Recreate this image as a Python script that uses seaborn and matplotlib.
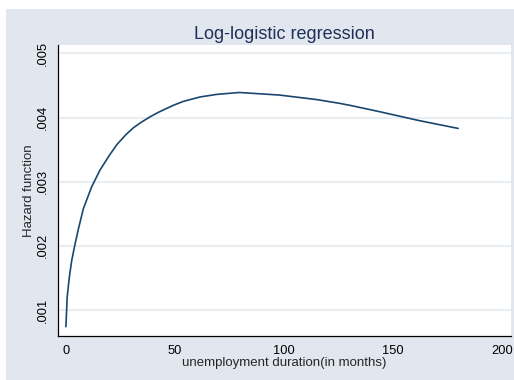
import matplotlib
matplotlib.use("Agg")
import matplotlib.pyplot as plt
from matplotlib.patches import Rectangle
import pandas as pd
import seaborn as sns

# Estimated hazard from the log-logistic model, by unemployment duration (months)
duration = [0.1, 0.7, 1.7, 2.8, 4.3, 5.8, 8.1, 11.9, 15.7, 19.8, 23.5, 27.5,
            31.0, 34.8, 38.6, 42.4, 49.3, 53.8, 61.5, 69.1, 79.6, 97.9, 114.9,
            125.6, 130.2, 143.9, 162.2, 179.8]
hazard = [0.00074, 0.00121, 0.00152, 0.00178, 0.00203, 0.00226, 0.00258, 0.00292,
          0.00318, 0.00340, 0.00358, 0.00373, 0.00384, 0.00393, 0.00401, 0.00408,
          0.00419, 0.00425, 0.00432, 0.00436, 0.00439, 0.00435, 0.00428,
          0.00422, 0.00419, 0.00409, 0.00395, 0.00383]

x_ticks = [0, 50, 100, 150, 200]
y_ticks = [0.001, 0.002, 0.003, 0.004, 0.005]
y_tick_labels = [".001", ".002", ".003", ".004", ".005"]

df = pd.DataFrame({"duration": duration, "hazard": hazard})

sns.set_style("white")
plt.rcParams["font.family"] = ["Liberation Sans", "DejaVu Sans"]

W, H = 514, 380
fig = plt.figure(figsize=(W / 100, H / 100), dpi=100, facecolor="white")

# graph region background
fig.patches.append(Rectangle((6 / W, 0), (W - 6) / W, (H - 9) / H,
                             transform=fig.transFigure, facecolor="#E2E7EF",
                             edgecolor="none", zorder=-10))

left, right, top, bottom = 57.7, 511, 45, 335.7
ax = fig.add_axes([left / W, (H - bottom) / H, (right - left) / W, (bottom - top) / H])
ax.set_facecolor("white")

navy = "#1A476F"
sns.lineplot(data=df, x="duration", y="hazard", ax=ax, color=navy, linewidth=1.2)

ax.set_xlim(-3.66, 204)
ax.set_ylim(0.0006, 0.00513)
ax.set_xticks(x_ticks)
ax.set_xticklabels([str(v) for v in x_ticks])
ax.set_yticks(y_ticks)
ax.set_yticklabels(y_tick_labels, rotation=90, va="center")

ax.yaxis.grid(True, color="#E9EEF3", linewidth=1.5)
ax.xaxis.grid(False)
ax.set_axisbelow(True)

for side in ["top", "right"]:
    ax.spines[side].set_visible(False)
for side in ["left", "bottom"]:
    ax.spines[side].set_color("black")
    ax.spines[side].set_linewidth(0.9)

ax.tick_params(axis="both", which="major", direction="out", length=4.5,
               width=0.9, color="black", labelsize=9.3, labelcolor="black", pad=2)

ax.set_xlabel("unemployment duration(in months)", fontsize=9.5, labelpad=0.5)
ax.set_ylabel("Hazard function", fontsize=9.5, labelpad=1.5)

ax.set_title("Log-logistic regression", fontsize=13, color="#1C3157", pad=4)

fig.savefig("out.png", dpi=100, facecolor=fig.get_facecolor())
